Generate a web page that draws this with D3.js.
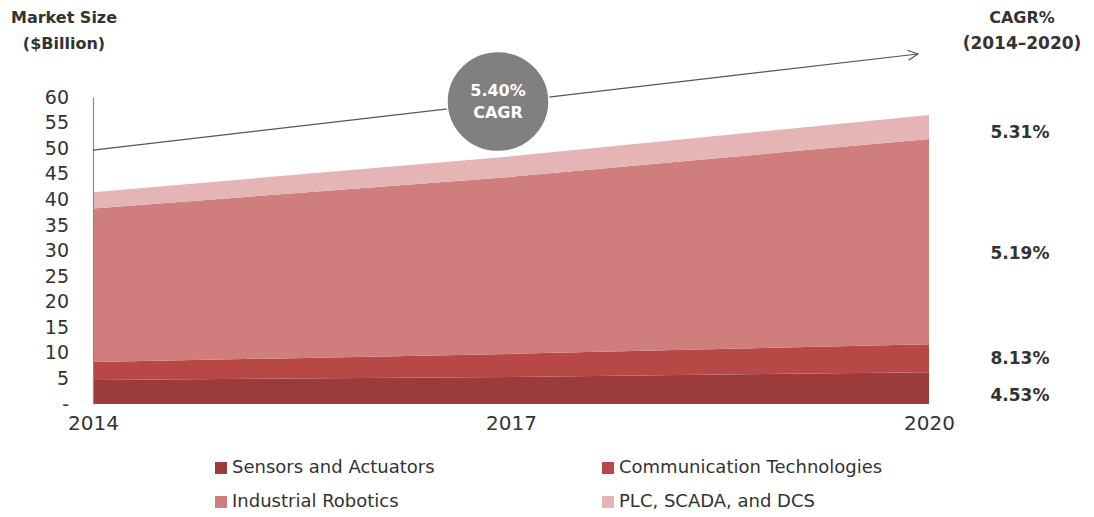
<!DOCTYPE html>
<html>
<head>
<meta charset="utf-8">
<script src="https://cdn.jsdelivr.net/npm/d3@7"></script>
<style>
  body { margin: 0; background: #fff; }
  svg { display: block; font-family: 'DejaVu Sans', sans-serif; }
</style>
</head>
<body>
<div class="vis"></div>
<script>
// values ($ billion)
const years = [2014, 2017, 2020]
const seriesNames = ['Sensors and Actuators', 'Communication Technologies', 'Industrial Robotics', 'PLC, SCADA, and DCS']
const sensors = [4.7, 5.3, 6.2]
const communication = [3.5, 4.5, 5.5]
const robotics = [30.0, 34.6, 40.1]
const plc = [3.2, 4.0, 4.7]
const cagrLabels = ['4.53%', '8.13%', '5.19%', '5.31%']
const yTickValues = [0, 5, 10, 15, 20, 25, 30, 35, 40, 45, 50, 55, 60]
const totalCagr = '5.40%'

const colors = ['#9c3b3b', '#b84845', '#cf7d7d', '#e5b4b4']
const keys = ['s0', 's1', 's2', 's3']

const data = years.map((yr, i) => ({
  year: yr,
  s0: sensors[i],
  s1: communication[i],
  s2: robotics[i],
  s3: plc[i]
}))

const W = 1094
const H = 517

const svg = d3.select('.vis')
  .append('svg')
  .attr('width', W)
  .attr('height', H)

const x = d3.scaleLinear().domain([2014, 2020]).range([93, 929])
const y = d3.scaleLinear().domain([0, 60]).range([404, 97])

const stack = d3.stack().keys(keys)
const series = stack(data)

const area = d3.area()
  .x(d => x(d.data.year))
  .y0(d => y(d[0]))
  .y1(d => y(d[1]))

svg.append('g')
  .selectAll('path')
  .data(series)
  .join('path')
  .attr('d', area)
  .attr('fill', (d, i) => colors[i])

// y axis
const yAxis = d3.axisLeft(y)
  .tickValues(yTickValues)
  .tickSize(0)
  .tickPadding(24)
  .tickFormat(d => (d === 0 ? '-' : d))

const gy = svg.append('g')
  .attr('transform', `translate(${x(2014)},0)`)
  .call(yAxis)
gy.select('.domain').attr('stroke', '#8a8a8a').attr('stroke-width', 1.2)
gy.selectAll('.tick text')
  .attr('font-family', 'DejaVu Sans, sans-serif')
  .attr('font-size', 19)
  .attr('fill', '#333')

// x axis labels
const xAxis = d3.axisBottom(x)
  .tickValues(years)
  .tickSize(0)
  .tickPadding(12)
  .tickFormat(d3.format('d'))

const gx = svg.append('g')
  .attr('transform', `translate(0,${y(0)})`)
  .call(xAxis)
gx.select('.domain').remove()
gx.selectAll('.tick text')
  .attr('font-family', 'DejaVu Sans, sans-serif')
  .attr('font-size', 20)
  .attr('fill', '#333')

// axis titles
svg.append('text')
  .attr('x', 64).attr('y', 23)
  .attr('text-anchor', 'middle')
  .attr('font-size', 16).attr('font-weight', 'bold').attr('fill', '#333')
  .text('Market Size')
svg.append('text')
  .attr('x', 64).attr('y', 49)
  .attr('text-anchor', 'middle')
  .attr('font-size', 16).attr('font-weight', 'bold').attr('fill', '#333')
  .text('($Billion)')

svg.append('text')
  .attr('x', 1022).attr('y', 23)
  .attr('text-anchor', 'middle')
  .attr('font-size', 16).attr('font-weight', 'bold').attr('fill', '#333')
  .text('CAGR%')
svg.append('text')
  .attr('x', 1022).attr('y', 49)
  .attr('text-anchor', 'middle')
  .attr('font-size', 17).attr('font-weight', 'bold').attr('fill', '#333')
  .text('(2014\u20132020)')

// CAGR value per series, beside the 2020 edge
const lastIdx = years.length - 1
const labelNudge = [8, 1, 12, 6]
svg.append('g')
  .selectAll('text')
  .data(series)
  .join('text')
  .attr('x', 1020)
  .attr('y', (d, i) => y((d[lastIdx][0] + d[lastIdx][1]) / 2) + labelNudge[i])
  .attr('text-anchor', 'middle')
  .attr('dominant-baseline', 'middle')
  .attr('font-size', 17)
  .attr('font-weight', 'bold')
  .attr('fill', '#333')
  .text((d, i) => cagrLabels[i])

// overall growth arrow
svg.append('defs').append('marker')
  .attr('id', 'arrow')
  .attr('viewBox', '0 0 12 12')
  .attr('refX', 11).attr('refY', 6)
  .attr('markerWidth', 12).attr('markerHeight', 12)
  .attr('markerUnits', 'userSpaceOnUse')
  .attr('orient', 'auto')
  .append('path')
  .attr('d', 'M1,1 L11,6 L1,11')
  .attr('fill', 'none')
  .attr('stroke', '#555')
  .attr('stroke-width', 1.2)

svg.append('line')
  .attr('x1', x(2014)).attr('y1', y(49.6))
  .attr('x2', x(2019.92)).attr('y2', y(68.4))
  .attr('stroke', '#555')
  .attr('stroke-width', 1.2)
  .attr('marker-end', 'url(#arrow)')

const badge = svg.append('g').attr('transform', `translate(${x(2017) - 13},${y(59.1)})`)
badge.append('ellipse')
  .attr('rx', 51).attr('ry', 50)
  .attr('fill', '#808080')
  .attr('stroke', '#fff')
  .attr('stroke-width', 1.5)
badge.append('text')
  .attr('y', -6)
  .attr('text-anchor', 'middle')
  .attr('font-size', 16).attr('font-weight', 'bold').attr('fill', '#fff')
  .text(totalCagr)
badge.append('text')
  .attr('y', 16)
  .attr('text-anchor', 'middle')
  .attr('font-size', 16).attr('font-weight', 'bold').attr('fill', '#fff')
  .text('CAGR')

// legend, two columns
const legend = svg.append('g')
  .selectAll('g')
  .data(seriesNames)
  .join('g')
  .attr('transform', (d, i) => `translate(${i % 2 === 0 ? 215 : 602},${i < 2 ? 468 : 502})`)

legend.append('rect')
  .attr('x', 0).attr('y', -6)
  .attr('width', 12).attr('height', 12)
  .attr('fill', (d, i) => colors[i])

legend.append('text')
  .attr('x', 17)
  .attr('dominant-baseline', 'middle')
  .attr('font-size', 18)
  .attr('fill', '#333')
  .text(d => d)
</script>
</body>
</html>
